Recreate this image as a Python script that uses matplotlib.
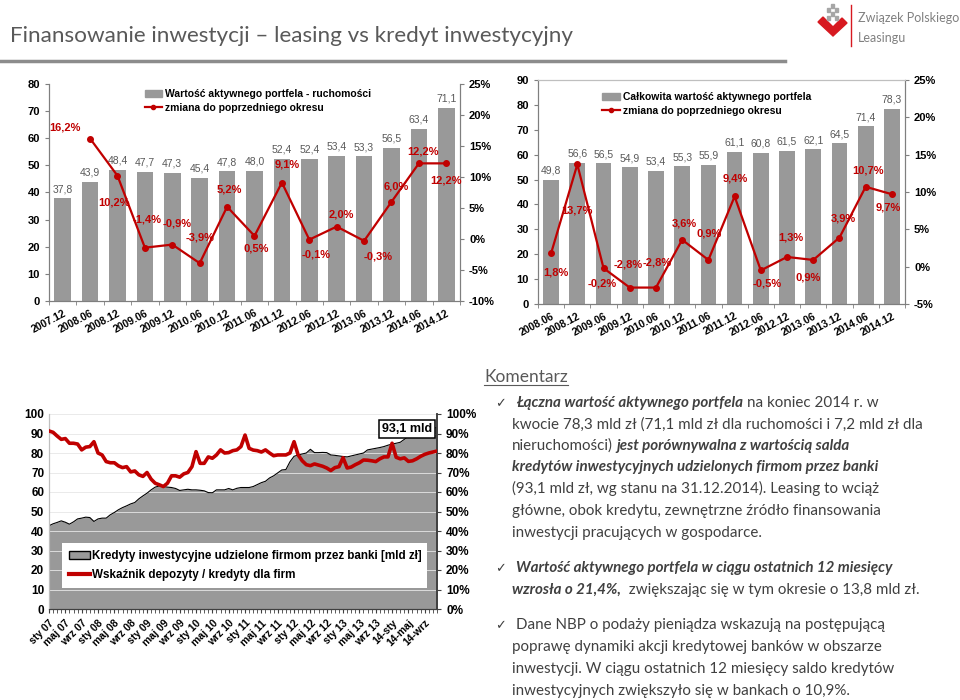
import numpy as np
import matplotlib
matplotlib.use('Agg')
import matplotlib.pyplot as plt
from matplotlib.patches import Polygon, Rectangle
from matplotlib.lines import Line2D

# ---- wykres 1: portfel ruchomości ----
ruch_periods = ['2007.12', '2008.06', '2008.12', '2009.06', '2009.12', '2010.06', '2010.12',
                '2011.06', '2011.12', '2012.06', '2012.12', '2013.06', '2013.12', '2014.06', '2014.12']
ruch_values = [37.8, 43.9, 48.4, 47.7, 47.3, 45.4, 47.8, 48.0, 52.4, 52.4, 53.4, 53.3, 56.5, 63.4, 71.1]
ruch_change = [16.2, 10.2, -1.4, -0.9, -3.9, 5.2, 0.5, 9.1, -0.1, 2.0, -0.3, 6.0, 12.2, 12.2]

# ---- wykres 2: całkowity portfel ----
total_periods = ['2008.06', '2008.12', '2009.06', '2009.12', '2010.06', '2010.12', '2011.06',
                 '2011.12', '2012.06', '2012.12', '2013.06', '2013.12', '2014.06', '2014.12']
total_values = [49.8, 56.6, 56.5, 54.9, 53.4, 55.3, 55.9, 61.1, 60.8, 61.5, 62.1, 64.5, 71.4, 78.3]
total_change = [1.8, 13.7, -0.2, -2.8, -2.8, 3.6, 0.9, 9.4, -0.5, 1.3, 0.9, 3.9, 10.7, 9.7]

# ---- wykres 3: kredyty inwestycyjne (mies., sty 07 - gru 14) ----
month_labels = ['sty 07', 'maj 07', 'wrz 07', 'sty 08', 'maj 08', 'wrz 08', 'sty 09', 'maj 09',
                'wrz 09', 'sty 10', 'maj 10', 'wrz 10', 'sty 11', 'maj 11', 'wrz 11', 'sty 12',
                'maj 12', 'wrz 12', 'sty 13', 'maj 13', 'wrz 13', '14-sty', '14-maj', '14-wrz']
credit = [42.7, 43.7, 44.4, 45.2, 44.5, 43.5, 44.7, 46.2, 46.6, 47.1, 46.9, 44.9, 46.2, 46.6,
          46.6, 48.3, 49.5, 50.9, 52.0, 52.9, 53.9, 54.6, 56.5, 58.0, 59.4, 61.1, 62.5, 63.1,
          62.8, 62.5, 62.3, 61.8, 60.8, 61.1, 61.4, 61.1, 61.1, 60.9, 60.6, 59.7, 59.6, 61.1,
          61.1, 61.1, 61.8, 61.1, 61.9, 62.3, 62.3, 62.3,
          62.8, 63.8, 64.8, 65.5, 67.2, 68.3, 69.8, 71.3, 71.5, 75.5, 78.3, 79.0, 79.5, 80.0,
          81.9, 80.2, 80.2, 80.3, 80.2, 79.0, 78.8, 78.5, 78.2, 78.0, 78.5, 79.0, 79.5, 80.0,
          81.6, 82.0, 82.4, 82.8, 83.3, 84.0, 84.6, 85.0, 85.5, 87.0, 88.5, 90.0, 91.0, 91.3,
          91.8, 92.2, 92.6, 93.1]
ratio = [91.3, 90.6, 88.7, 87.0, 87.4, 85.0, 85.0, 84.6, 81.6, 83.0, 83.3, 85.8, 80.0, 79.0,
         75.6, 75.0, 75.0, 73.4, 72.5, 73.0, 70.3, 70.8, 68.8, 68.0, 70.0, 66.6, 64.5, 63.7,
         62.8, 64.5, 68.3, 68.3, 67.6, 69.3, 70.0, 73.0, 80.7, 74.7, 74.7, 78.0, 77.3, 79.0,
         81.6, 80.0, 80.2, 81.2, 81.6, 83.3, 89.2, 82.4,
         81.5, 81.2, 80.5, 81.6, 80.0, 78.6, 79.0, 79.0, 79.0, 80.0, 85.8, 79.0, 76.0, 74.0,
         73.5, 74.4, 73.8, 73.2, 72.3, 71.0, 72.5, 73.0, 77.6, 72.3, 72.8, 74.0, 75.0, 76.4,
         76.3, 76.0, 75.6, 77.0, 78.0, 78.0, 85.0, 77.8, 77.0, 77.5, 75.7, 76.0, 77.0, 78.3,
         79.3, 80.0, 80.5, 81.0]

RED = '#C00000'
BAR = '#999999'
TXT = '#404040'
W, H = 960, 700


def fx(px):
    return px / W


def fy(py):
    return 1 - py / H


def ax_rect(x0, y0, x1, y1):
    return [fx(x0), fy(y1), (x1 - x0) / W, (y1 - y0) / H]


def pl(v, pct=False):
    s = f'{v:.1f}'.replace('.', ',')
    return s + '%' if pct else s


plt.rcParams['font.family'] = ['Liberation Sans', 'DejaVu Sans']

fig = plt.figure(figsize=(9.6, 7), dpi=100)
renderer = fig.canvas.get_renderer()


def bar_line_chart(rect, periods, values, change, ymax, ystep, pmin, pmax, offsets, legend_text,
                   legend_pos, top_frame=False):
    ax = fig.add_axes(rect)
    x = np.arange(len(periods))
    ax.bar(x, values, width=0.6, color=BAR, zorder=2)
    ax.set_xlim(-0.5, len(periods) - 0.5)
    ax.set_ylim(0, ymax)
    ax.set_yticks(np.arange(0, ymax + 1, ystep))
    ax.set_xticks(x)
    ax.set_xticklabels(periods, rotation=28, ha='right', rotation_mode='anchor',
                       fontsize=7.5, fontweight='bold')
    ax.set_xticks(np.arange(-0.5, len(periods)), minor=True)
    ax.tick_params(axis='x', which='major', length=0, pad=5)
    ax.tick_params(axis='x', which='minor', length=3, color='#7f7f7f')
    ax.tick_params(axis='y', labelsize=8, length=3, color='#7f7f7f')
    for lab in ax.get_yticklabels():
        lab.set_fontweight('bold')
    for v, xi in zip(values, x):
        ax.annotate(pl(v), (xi, v), xytext=(0, 3), textcoords='offset points',
                    ha='center', va='bottom', fontsize=7.5, color='#595959')

    axb = ax.twinx()
    xl = x[len(x) - len(change):]
    axb.plot(xl, change, color=RED, lw=1.6, marker='o', ms=4, zorder=3)
    axb.set_ylim(pmin, pmax)
    axb.set_yticks(np.arange(pmin, pmax + 1, 5))
    axb.set_yticklabels([f'{t}%' for t in range(pmin, pmax + 1, 5)], fontsize=8, fontweight='bold')
    axb.tick_params(axis='y', length=3, color='#7f7f7f')
    for (dx, dy), xi, v in zip(offsets, xl, change):
        axb.annotate(pl(v, True), (xi, v), xytext=(dx * 0.72, -dy * 0.72),
                     textcoords='offset points', ha='center', va='center',
                     fontsize=8, fontweight='bold', color=RED)

    for a in (ax, axb):
        for s in ('left', 'right', 'bottom'):
            a.spines[s].set_color('#7f7f7f')
        if top_frame:
            a.spines['top'].set_color('#bfbfbf')
        else:
            a.spines['top'].set_visible(False)

    handles = [Rectangle((0, 0), 1, 1, color=BAR),
               Line2D([], [], color=RED, lw=1.6, marker='o', ms=3)]
    axb.legend(handles, legend_text, loc='upper left', bbox_to_anchor=legend_pos,
               frameon=False, prop={'weight': 'bold', 'size': 7.5},
               handlelength=1.7, handletextpad=0.3, labelspacing=0.35, borderpad=0)
    return ax, axb


off1 = [(-25, -11), (-3, 27), (2, -28), (5, -21), (0, -26), (2, -17), (2, 13), (5, -18),
        (7, 15), (5, -12), (14, 16), (5, -15), (4, -12), (0, 17)]
bar_line_chart(ax_rect(49, 84, 460, 301), ruch_periods, ruch_values, ruch_change, 80, 10, -10, 25,
               off1, ['Wartość aktywnego portfela - ruchomości', 'zmiana do poprzedniego okresu'],
               (0.22, 1.0))

off2 = [(5, 19), (0, 46), (-1, 15), (-2, -23), (1, -25), (2, -16), (1, -26), (1, -18),
        (6, 13), (4, -19), (-5, 18), (4, -19), (2, -16), (-4, 13)]
bar_line_chart(ax_rect(538, 80, 905, 304), total_periods, total_values, total_change, 90, 10, -5, 25,
               off2, ['Całkowita wartość aktywnego portfela', 'zmiana do poprzedniego okresu'],
               (0.16, 0.97), top_frame=True)

# ---- wykres 3 ----
ax3 = fig.add_axes(ax_rect(49, 414, 437, 609))
m = np.arange(len(credit))
ax3.grid(axis='y', color='#e6e6e6', lw=0.6, zorder=0)
ax3.fill_between(m, credit, color=BAR, lw=0, zorder=1)
ax3.plot(m, credit, color='black', lw=0.8, zorder=2)
ax3.set_xlim(0, len(credit) - 1)
ax3.set_ylim(0, 100)
ax3.set_yticks(np.arange(0, 101, 10))
ax3.set_xticks(np.arange(0, len(credit), 4))
ax3.set_xticklabels(month_labels, rotation=45, ha='right', rotation_mode='anchor',
                    fontsize=7.5, fontweight='bold')
ax3.set_xticks(m, minor=True)
ax3.tick_params(axis='x', which='both', length=3, color='#404040')
ax3.tick_params(axis='y', labelsize=8.5, length=0)
for lab in ax3.get_yticklabels():
    lab.set_fontweight('bold')

ax3b = ax3.twinx()
ax3b.plot(m, ratio, color=RED, lw=2.6, zorder=3)
ax3b.set_ylim(0, 100)
ax3b.set_yticks(np.arange(0, 101, 10))
ax3b.set_yticklabels([f'{t}%' for t in range(0, 101, 10)], fontsize=8.5, fontweight='bold')
ax3b.tick_params(axis='y', length=3, color='#404040')
for a in (ax3, ax3b):
    a.spines['top'].set_visible(False)
    a.spines['left'].set_color('#bfbfbf')
    a.spines['bottom'].set_color('#404040')
    a.spines['right'].set_color('#404040')
    a.spines['right'].set_linewidth(1.2)

ax3b.text(0.923, 0.923, pl(credit[-1]) + ' mld', transform=ax3b.transAxes, ha='center', va='center',
          fontsize=9, fontweight='bold',
          bbox=dict(facecolor='white', edgecolor='black', boxstyle='square,pad=0.25', lw=1.1))
h3 = [Rectangle((0, 0), 1, 1, facecolor=BAR, edgecolor='black', lw=1),
      Line2D([], [], color=RED, lw=3)]
ax3b.legend(h3, ['Kredyty inwestycyjne udzielone firmom przez banki [mld zł]',
                 'Wskaźnik depozyty / kredyty dla firm'],
            loc='lower left', bbox_to_anchor=(0.018, 0.077, 0.972, 0.236), mode='expand',
            prop={'weight': 'bold', 'size': 8.4}, frameon=True, fancybox=False,
            facecolor='white', edgecolor='none', framealpha=1, handlelength=1.8,
            handletextpad=0.15, labelspacing=0.6, borderpad=0.6)

# ---- nagłówek ----
title = fig.text(fx(10), fy(42), 'Finansowanie inwestycji \u2013 leasing vs kredyt inwestycyjny',
                 fontsize=16, color='#595959', family=['Lato', 'DejaVu Sans'], va='baseline')
tw = title.get_window_extent(renderer).width
title.set_fontsize(16 * 565 / tw)
fig.add_artist(Line2D([0, fx(785)], [fy(61), fy(61)], color='#8c8c8c', lw=2.5))

# logo
fig.add_artist(Polygon([(fx(px), fy(py)) for px, py in
                        [(823, 17), (833, 27), (842, 18), (847, 23), (833, 36), (818, 22)]],
                       closed=True, color='#D71920'))
for px, py in [(832, 6), (828, 10), (836, 10), (832, 14), (828, 18), (836, 18)]:
    fig.add_artist(Rectangle((fx(px - 1.5), fy(py + 1.5)), 3 / W, 3 / H, color='#a6a6a6'))
fig.add_artist(Line2D([fx(851), fx(851)], [fy(5), fy(46)], color='#D71920', lw=1))
fig.text(fx(858), fy(22), 'Związek Polskiego', fontsize=9, color='#808080',
         family=['Lato', 'DejaVu Sans'], va='baseline')
fig.text(fx(858), fy(42), 'Leasingu', fontsize=9, color='#808080',
         family=['Lato', 'DejaVu Sans'], va='baseline')

# ---- komentarz ----
BODY = ['Lato', 'DejaVu Sans']
probe = fig.text(0, 0, 'kwocie 78,3 mld zł (71,1 mld zł dla ruchomości i 7,2 mld zł dla',
                 fontsize=10, family=BODY)
body_size = 10 * 409 / probe.get_window_extent(renderer).width
probe.remove()


def text_width(s, **kw):
    t = fig.text(0, 0, s, **kw)
    w = t.get_window_extent(renderer).width
    t.remove()
    return w


def rich_line(x, y, parts):
    for i, (txt, bold) in enumerate(parts):
        kw = dict(fontsize=body_size, family=BODY, color=TXT,
                  fontweight='bold' if bold else 'normal',
                  fontstyle='italic' if bold else 'normal')
        if i > 0:
            x += text_width('a a', **kw) - text_width('aa', **kw)
        t = fig.text(fx(x), fy(y), txt, va='baseline', **kw)
        x += t.get_window_extent(renderer).width


k = fig.text(fx(484), fy(382), 'Komentarz', fontsize=body_size * 1.15, family=BODY, color='#595959',
             va='baseline')
kw_ = k.get_window_extent(renderer).width
fig.add_artist(Line2D([fx(484), fx(484 + kw_)], [fy(385), fy(385)], color='#595959', lw=0.8))

lines = [
    (407, True, [('Łączna wartość aktywnego portfela', True), ('na koniec 2014 r. w', False)]),
    (428.5, False, [('kwocie 78,3 mld zł (71,1 mld zł dla ruchomości i 7,2 mld zł dla', False)]),
    (450, False, [('nieruchomości)', False), ('jest porównywalna z wartością salda', True)]),
    (471.5, False, [('kredytów inwestycyjnych udzielonych firmom przez banki', True)]),
    (493, False, [('(93,1 mld zł, wg stanu na 31.12.2014). Leasing to wciąż', False)]),
    (515, False, [('główne, obok kredytu, zewnętrzne źródło finansowania', False)]),
    (537, False, [('inwestycji pracujących w gospodarce.', False)]),
    (572, True, [('Wartość aktywnego portfela w ciągu ostatnich 12 miesięcy', True)]),
    (594, False, [('wzrosła o 21,4%,', True), (' zwiększając się w tym okresie o 13,8 mld zł.', False)]),
    (629, True, [('Dane NBP o podaży pieniądza wskazują na postępującą', False)]),
    (651, False, [('poprawę dynamiki akcji kredytowej banków w obszarze', False)]),
    (673, False, [('inwestycji. W ciągu ostatnich 12 miesięcy saldo kredytów', False)]),
    (695, False, [('inwestycyjnych zwiększyło się w bankach o 10,9%.', False)]),
]
for y, bullet, parts in lines:
    if bullet:
        fig.text(fx(495), fy(y), '\u2713', fontsize=body_size * 0.85, family='DejaVu Sans',
                 color=TXT, va='baseline')
        rich_line(516, y, parts)
    else:
        rich_line(512, y, parts)

fig.savefig('out.png', dpi=100)
